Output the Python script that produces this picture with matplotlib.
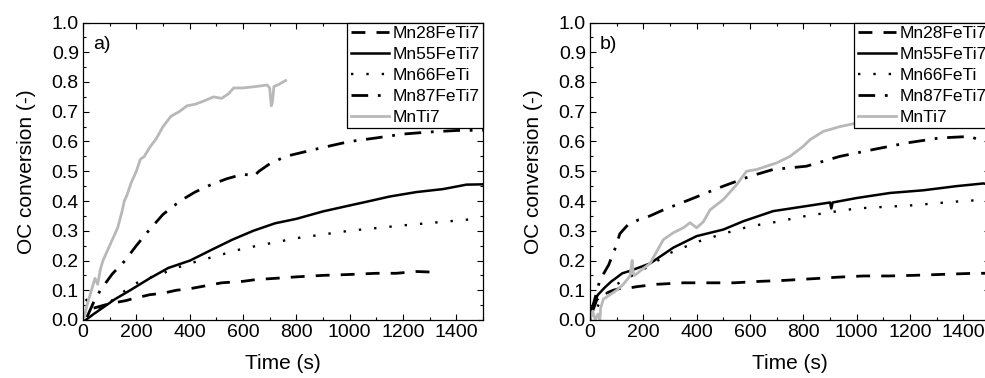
import numpy as np
import matplotlib
matplotlib.use("Agg")
import matplotlib.pyplot as plt
from matplotlib.ticker import MultipleLocator

plt.rcParams['font.family'] = ['Liberation Sans', 'DejaVu Sans']

labels = ["Mn28FeTi7", "Mn55FeTi7", "Mn66FeTi", "Mn87FeTi7", "MnTi7"]

# panel a)
a_mn28_t = [40, 100, 160, 180, 250, 300, 350, 400, 460, 520, 600, 650, 720, 800, 900, 1000, 1100, 1175, 1250, 1340]
a_mn28_v = [0.04, 0.055, 0.065, 0.07, 0.085, 0.09, 0.10, 0.105, 0.115, 0.125, 0.13, 0.136, 0.14, 0.145, 0.15, 0.153, 0.157, 0.157, 0.163, 0.16]

a_mn55_t = [10, 40, 80, 120, 177, 250, 320, 402, 480, 560, 639, 720, 800, 900, 1000, 1076, 1150, 1250, 1350, 1438, 1500]
a_mn55_v = [0.0, 0.02, 0.045, 0.07, 0.10, 0.14, 0.175, 0.20, 0.235, 0.27, 0.30, 0.325, 0.34, 0.365, 0.385, 0.40, 0.415, 0.43, 0.44, 0.455, 0.456]

a_mn66_t = [10, 30, 70, 100, 160, 220, 280, 350, 400, 500, 600, 800, 1000, 1200, 1450]
a_mn66_v = [0.07, 0.05, 0.04, 0.06, 0.10, 0.135, 0.15, 0.175, 0.19, 0.215, 0.24, 0.275, 0.30, 0.318, 0.338]

a_mn87_t = [15, 40, 65, 110, 158, 200, 246, 300, 364, 420, 480, 540, 600, 625, 640, 660, 700, 760, 830, 900, 1000, 1100, 1200, 1300, 1400, 1500]
a_mn87_v = [0.01, 0.06, 0.10, 0.155, 0.20, 0.25, 0.30, 0.355, 0.40, 0.43, 0.455, 0.475, 0.49, 0.487, 0.483, 0.50, 0.525, 0.55, 0.565, 0.58, 0.60, 0.612, 0.625, 0.632, 0.637, 0.638]

a_mnti7_t = [5, 15, 25, 35, 45, 55, 65, 75, 85, 100, 115, 130, 145, 155, 165, 180, 200, 215, 230, 250, 275, 300, 330, 360, 390, 420, 450, 490, 520, 545, 565, 600, 650, 690, 700, 706, 710, 716, 730, 760]
a_mnti7_v = [0.01, 0.05, 0.08, 0.11, 0.14, 0.12, 0.17, 0.20, 0.22, 0.25, 0.28, 0.31, 0.36, 0.40, 0.42, 0.46, 0.50, 0.54, 0.55, 0.58, 0.61, 0.65, 0.685, 0.70, 0.72, 0.725, 0.735, 0.75, 0.745, 0.76, 0.78, 0.78, 0.785, 0.79, 0.78, 0.72, 0.73, 0.785, 0.79, 0.805]

# panel b)
b_mn28_t = [10, 25, 45, 87, 117, 150, 175, 250, 350, 450, 540, 640, 725, 840, 930, 1025, 1120, 1210, 1310, 1440, 1500]
b_mn28_v = [0.03, 0.067, 0.084, 0.1, 0.107, 0.108, 0.112, 0.12, 0.125, 0.125, 0.125, 0.13, 0.133, 0.139, 0.144, 0.148, 0.148, 0.15, 0.153, 0.157, 0.157]

b_mn55_t = [0, 5, 12, 29, 54, 79, 96, 121, 150, 225, 312, 400, 500, 575, 687, 812, 900, 905, 910, 1000, 1125, 1250, 1375, 1475, 1500]
b_mn55_v = [0.0, 0.017, 0.05, 0.084, 0.108, 0.129, 0.14, 0.157, 0.165, 0.19, 0.243, 0.282, 0.304, 0.332, 0.366, 0.383, 0.395, 0.375, 0.395, 0.41, 0.427, 0.436, 0.45, 0.459, 0.455]

b_mn66_t = [0, 50, 100, 200, 300, 400, 500, 600, 700, 800, 900, 1000, 1200, 1400, 1500]
b_mn66_v = [0.0, 0.08, 0.12, 0.17, 0.225, 0.262, 0.29, 0.315, 0.33, 0.348, 0.362, 0.375, 0.385, 0.40, 0.405]

b_mn87_t = [5, 20, 37, 70, 92, 112, 142, 180, 200, 275, 375, 500, 600, 687, 812, 937, 1062, 1187, 1312, 1425, 1475, 1500]
b_mn87_v = [0.03, 0.077, 0.134, 0.185, 0.235, 0.29, 0.32, 0.336, 0.34, 0.37, 0.405, 0.45, 0.483, 0.506, 0.517, 0.55, 0.573, 0.595, 0.612, 0.617, 0.6, 0.598]

b_mnti7_t = [0, 10, 20, 30, 37, 40, 50, 75, 100, 125, 150, 158, 162, 168, 187, 225, 250, 275, 312, 350, 375, 400, 425, 450, 500, 550, 587, 625, 700, 750, 800, 825, 875, 937, 1000, 1060]
b_mnti7_v = [0.0, 0.03, 0.0, 0.02, 0.0, 0.04, 0.07, 0.085, 0.10, 0.12, 0.148, 0.2, 0.16, 0.15, 0.164, 0.19, 0.23, 0.27, 0.293, 0.31, 0.327, 0.31, 0.33, 0.37, 0.405, 0.455, 0.5, 0.506, 0.528, 0.55, 0.584, 0.606, 0.634, 0.65, 0.662, 0.68]

styles = [dict(color='black', lw=2.0, ls=(0, (5, 4))),
          dict(color='black', lw=1.8, ls='-'),
          dict(color='black', lw=1.7, ls=(0, (1, 5.5))),
          dict(color='black', lw=2.0, ls=(0, (6, 3.5, 1, 3.5))),
          dict(color='#b8b8b8', lw=2.0, ls='-')]


def draw_panel(ax, series, tag):
    for (t, v), lab, st in zip(series, labels, styles):
        ax.plot(t, v, label=lab, **st)
    ax.set_xlim(0, 1500)
    ax.set_ylim(0, 1.0)
    ax.xaxis.set_major_locator(MultipleLocator(200))
    ax.xaxis.set_minor_locator(MultipleLocator(100))
    ax.yaxis.set_major_locator(MultipleLocator(0.1))
    ax.yaxis.set_minor_locator(MultipleLocator(0.05))
    ax.yaxis.set_major_formatter(matplotlib.ticker.FormatStrFormatter('%.1f'))
    ax.tick_params(which='both', direction='in', top=True, right=True, width=0.8, labelsize=14, pad=3)
    ax.tick_params(which='major', length=4)
    ax.tick_params(which='minor', length=2.2)
    for s in ax.spines.values():
        s.set_linewidth(0.9)
    ax.set_xlabel("Time (s)", fontsize=15, labelpad=9)
    ax.set_ylabel("OC conversion (-)", fontsize=15, labelpad=11)
    ax.text(0.025, 0.955, tag, transform=ax.transAxes, fontsize=14, va='top', ha='left')
    leg = ax.legend(loc='upper right', borderaxespad=0, fancybox=False, fontsize=12.5,
                    handlelength=2.2, handletextpad=0.2, labelspacing=0.33, borderpad=0.2,
                    framealpha=1)
    leg.get_frame().set_edgecolor('black')
    leg.get_frame().set_linewidth(0.9)


fig = plt.figure(figsize=(9.85, 3.78), dpi=100)
ax1 = fig.add_axes([83 / 985, 58 / 378, 400 / 985, 297.5 / 378])
ax2 = fig.add_axes([590 / 985, 58 / 378, 400 / 985, 297.5 / 378])

draw_panel(ax1, [(a_mn28_t, a_mn28_v), (a_mn55_t, a_mn55_v), (a_mn66_t, a_mn66_v),
                 (a_mn87_t, a_mn87_v), (a_mnti7_t, a_mnti7_v)], "a)")
draw_panel(ax2, [(b_mn28_t, b_mn28_v), (b_mn55_t, b_mn55_v), (b_mn66_t, b_mn66_v),
                 (b_mn87_t, b_mn87_v), (b_mnti7_t, b_mnti7_v)], "b)")

fig.savefig("out.png", dpi=100)
